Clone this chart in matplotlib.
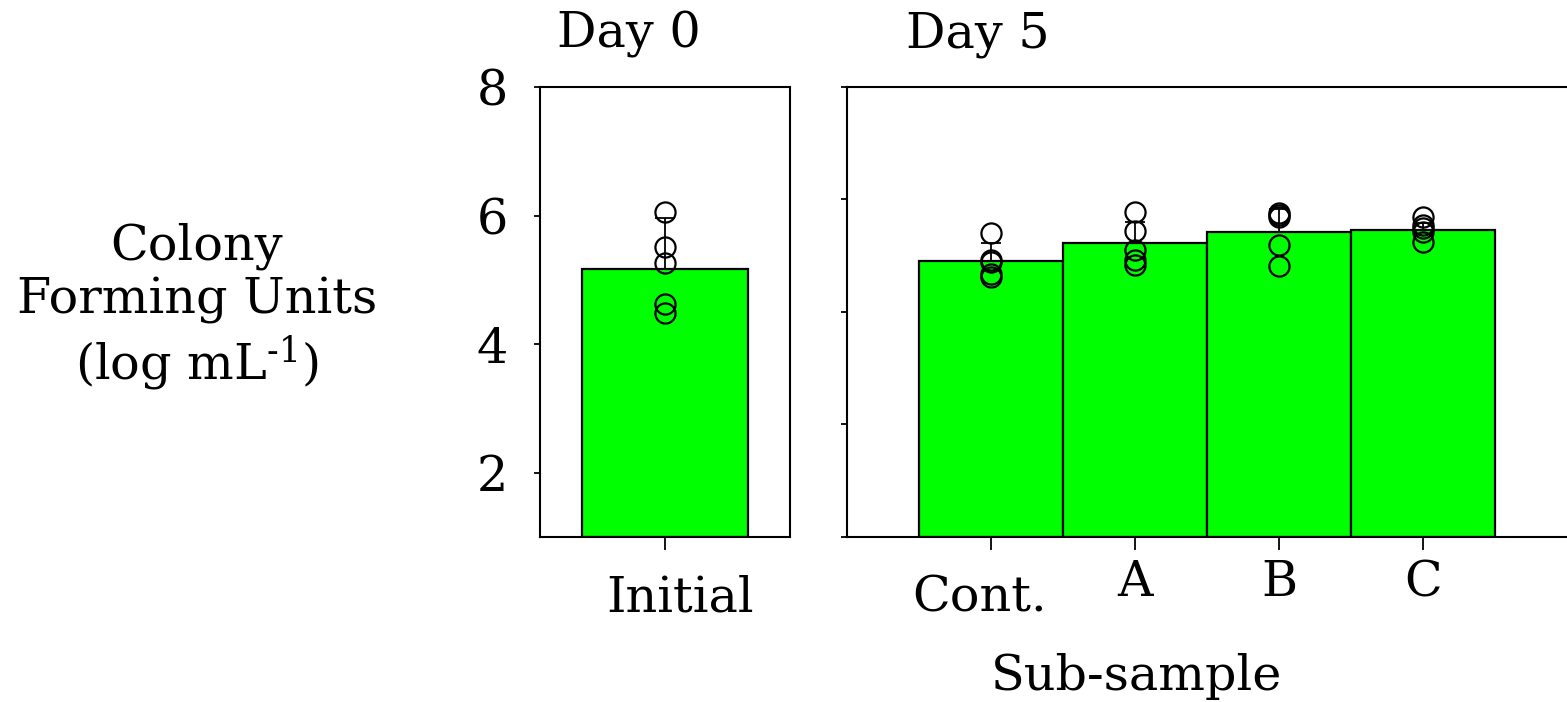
import matplotlib
matplotlib.use("Agg")
import matplotlib.pyplot as plt
import matplotlib.transforms as mtransforms
import numpy as np

plt.rcParams['font.family'] = ['DejaVu Serif']
plt.rcParams['mathtext.fontset'] = 'dejavuserif'

# Day 0 data
day0_labels = ["Initial"]
day0_reps = [[6.06, 5.51, 5.26, 4.62, 4.48]]
day0_means = [5.17]
day0_err = [0.79]

# Day 5 data
day5_labels = ["Cont.", "A", "B", "C"]
day5_reps = [
    [5.73, 5.31, 5.28, 5.09, 5.04],
    [6.06, 5.76, 5.46, 5.31, 5.23],
    [6.04, 6.01, 5.98, 5.54, 5.22],
    [5.98, 5.85, 5.81, 5.74, 5.59],
]
day5_means = [5.29, 5.57, 5.74, 5.78]
day5_err = [0.28, 0.33, 0.36, 0.10]

W, H = 1567, 702
fig = plt.figure(figsize=(W / 100, H / 100), dpi=100)

def px_rect(x0, y0, x1, y1):
    return [x0 / W, 1 - y1 / H, (x1 - x0) / W, (y1 - y0) / H]

ax0 = fig.add_axes(px_rect(540, 87, 790, 537))
ax1 = fig.add_axes(px_rect(847, 87, 1567, 537))

GREEN = "#00FF00"
FS = 35.5

def draw_panel(ax, labels, means, errs, reps):
    x = np.arange(len(labels))
    ax.bar(x, [m - 1 for m in means], bottom=1, width=1.0, color=GREEN,
           edgecolor="black", linewidth=1.6, zorder=2)
    ax.errorbar(x, means, yerr=[np.zeros(len(errs)), errs], fmt="none",
                ecolor="black", elinewidth=1.3, capsize=7, capthick=1.3, zorder=3)
    for xi, vals in zip(x, reps):
        ax.plot([xi] * len(vals), vals, linestyle="none", marker="o",
                markersize=14.5, markerfacecolor="none", markeredgecolor="black",
                markeredgewidth=1.6, zorder=4)
    ax.set_xticks(x)
    ax.set_xticklabels(labels, fontsize=FS)
    ax.set_ylim(1, 8)
    for sp in ax.spines.values():
        sp.set_linewidth(1.5)
    ax.tick_params(axis="x", direction="out", length=9, width=1.3, pad=7)
    ax.tick_params(axis="y", direction="out", length=4, width=1.3, pad=19,
                   labelsize=FS)

draw_panel(ax0, day0_labels, day0_means, day0_err, day0_reps)
ax0.set_xlim(-0.753, 0.753)
ax0.set_yticks([2, 4, 6, 8])

draw_panel(ax1, day5_labels, day5_means, day5_err, day5_reps)
ax1.set_xlim(-1, 4)
ax1.set_yticks([1, 2.75, 4.5, 6.25, 8])
ax1.set_yticklabels([])
ax1.spines["right"].set_visible(False)

# nudge individual category labels
lab0 = ax0.get_xticklabels()[0]
lab0.set_transform(lab0.get_transform() +
                   mtransforms.ScaledTranslation(15 / 100, -15 / 100, fig.dpi_scale_trans))
labc = ax1.get_xticklabels()[0]
labc.set_transform(labc.get_transform() +
                   mtransforms.ScaledTranslation(-11 / 100, -15 / 100, fig.dpi_scale_trans))

# panel titles
fig.text(557 / W, 1 - 47 / H, "Day 0", fontsize=FS, ha="left", va="baseline")
fig.text(906 / W, 1 - 47 / H, "Day 5", fontsize=FS, ha="left", va="baseline")

# axis titles
fig.text(197 / W, 1 - 308 / H, "Colony\nForming Units\n(log mL$^{\\text{-1}}$)",
         fontsize=FS, ha="center", va="center", linespacing=1.2)
fig.text(1137 / W, 1 - 690 / H, "Sub-sample", fontsize=FS, ha="center",
         va="baseline")

fig.savefig("out.png", dpi=100)
